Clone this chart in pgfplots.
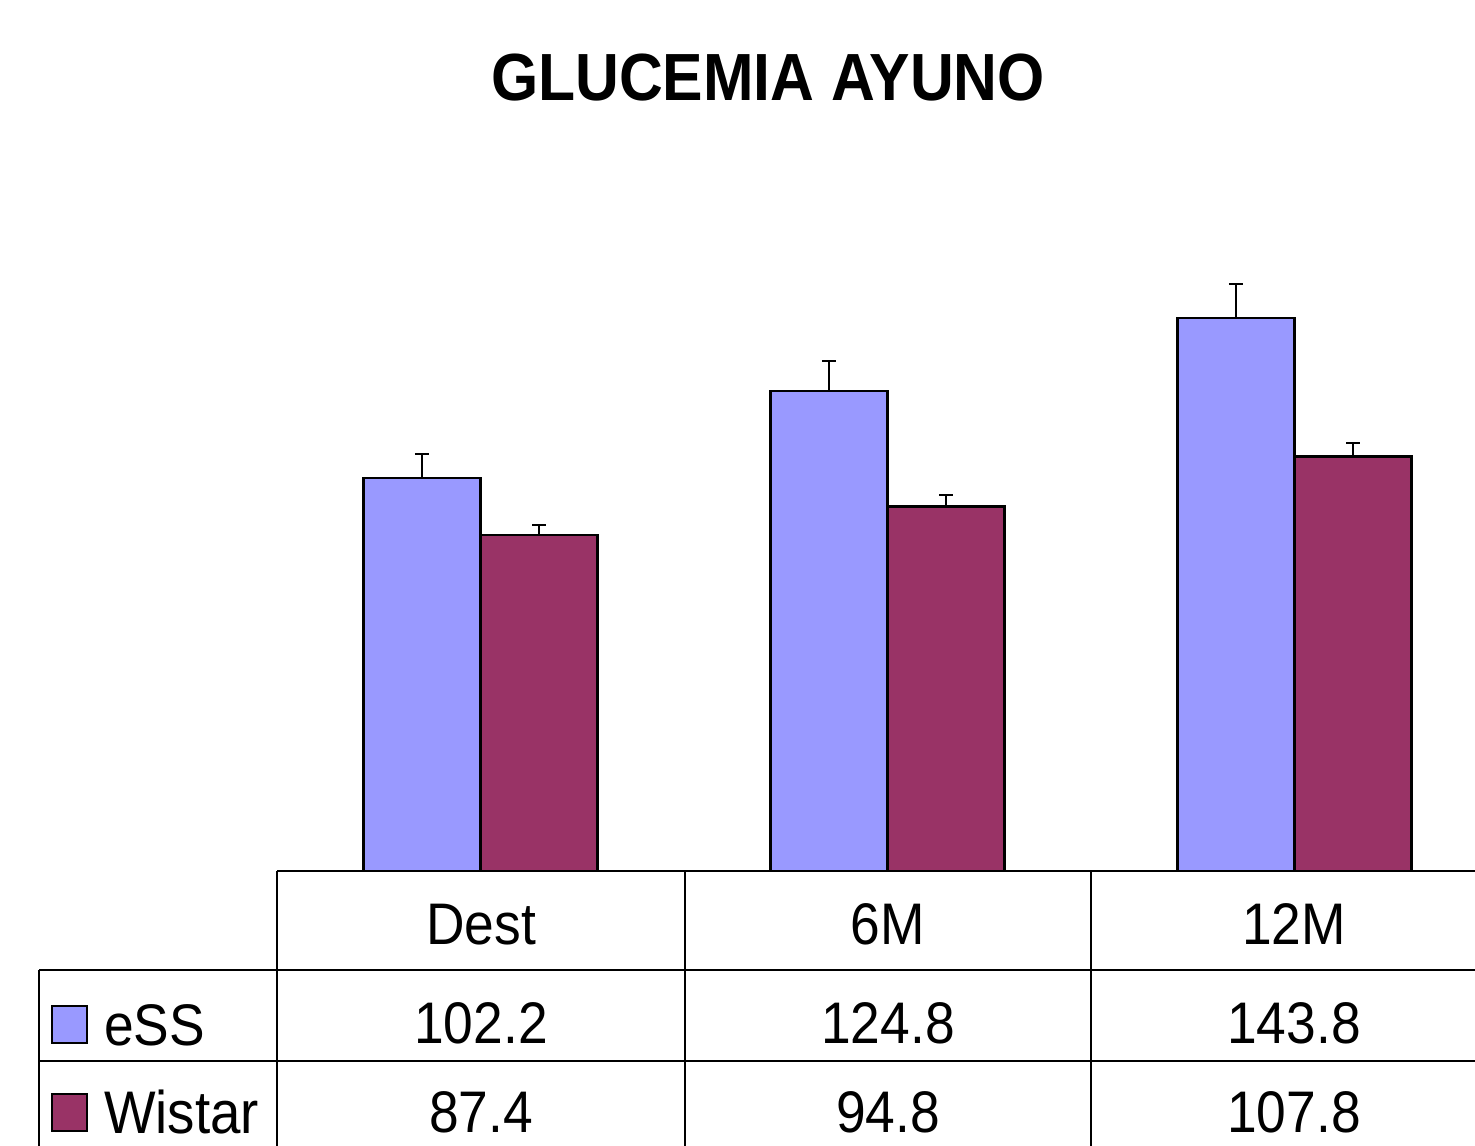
\documentclass[border=0pt]{standalone}
\usepackage{pgfplots}
\pgfplotsset{compat=1.18}
\usepackage{fontspec}
\setmainfont{Liberation Sans}
\definecolor{ess}{HTML}{9999FF}
\definecolor{wistar}{HTML}{993366}

\pgfplotstableread{
x  ess   esserr  wis   wiserr
0  102.2 6.2     87.4  2.6
1  124.8 7.8     94.8  3.0
2  143.8 8.8     107.8 3.5
}\glucdata

% text in the reference is slightly stretched vertically
\newcommand{\tall}[1]{\scalebox{1}[1.1]{#1}}

\begin{document}
\begin{tikzpicture}
% axis placed so that 1 image pixel = 0.3pt
\begin{axis}[
    at={(83.1pt,-261.3pt)}, anchor=south west,
    scale only axis,
    width=366.3pt, height=230.77pt,
    xmin=-0.5, xmax=2.5, ymin=0, ymax=200,
    hide axis, clip=false,
    ybar=0pt, bar width=0.2875,
    every axis plot/.append style={draw=black, line width=0.7pt},
    error bars/error bar style={line width=0.7pt, black},
    error bars/error mark options={rotate=90, mark size=2.1pt, line width=0.8pt, black},
]
\addplot[fill=ess, error bars/.cd, y dir=plus, y explicit]
    table[x=x, y=ess, y error=esserr] {\glucdata};
\addplot[fill=wistar, error bars/.cd, y dir=plus, y explicit]
    table[x=x, y=wis, y error=wiserr] {\glucdata};
\end{axis}

\begin{scope}[x=0.3pt, y=-0.3pt, line width=0.7pt]
  \node[anchor=base, font=\fontsize{18.2}{21}\selectfont\bfseries] at (768,100) {\tall{GLUCEMIA AYUNO}};
  % data table
  \draw (277,871) -- (1520,871);
  \draw (39,970) -- (1520,970);
  \draw (39,1061) -- (1520,1061);
  \draw (39,970) -- (39,1160);
  \foreach \xx in {277,685,1091} \draw (\xx,871) -- (\xx,1160);
  \begin{scope}[font=\fontsize{16}{19}\selectfont]
    \node[anchor=base] at (481,944) {\tall{Dest}};
    \node[anchor=base] at (888,944) {\tall{6M}};
    \node[anchor=base] at (1294,944) {\tall{12M}};
    \node[anchor=base] at (481,1043) {\tall{102.2}};
    \node[anchor=base] at (888,1043) {\tall{124.8}};
    \node[anchor=base] at (1294,1043) {\tall{143.8}};
    \node[anchor=base] at (481,1132) {\tall{87.4}};
    \node[anchor=base] at (888,1132) {\tall{94.8}};
    \node[anchor=base] at (1294,1132) {\tall{107.8}};
    \node[anchor=base west, inner sep=0pt] at (103,1045) {\tall{eSS}};
    \node[anchor=base west, inner sep=0pt] at (103,1133) {\tall{\fontsize{16.4}{19}\selectfont Wistar}};
  \end{scope}
  \draw[fill=ess, line width=0.6pt] (52,1006) rectangle (87,1043);
  \draw[fill=wistar, line width=0.6pt] (52,1094) rectangle (87,1131);
\end{scope}
\pgfresetboundingbox
\path[use as bounding box] (0,0) rectangle (442.5pt,-343.5pt);
\end{tikzpicture}
\end{document}
